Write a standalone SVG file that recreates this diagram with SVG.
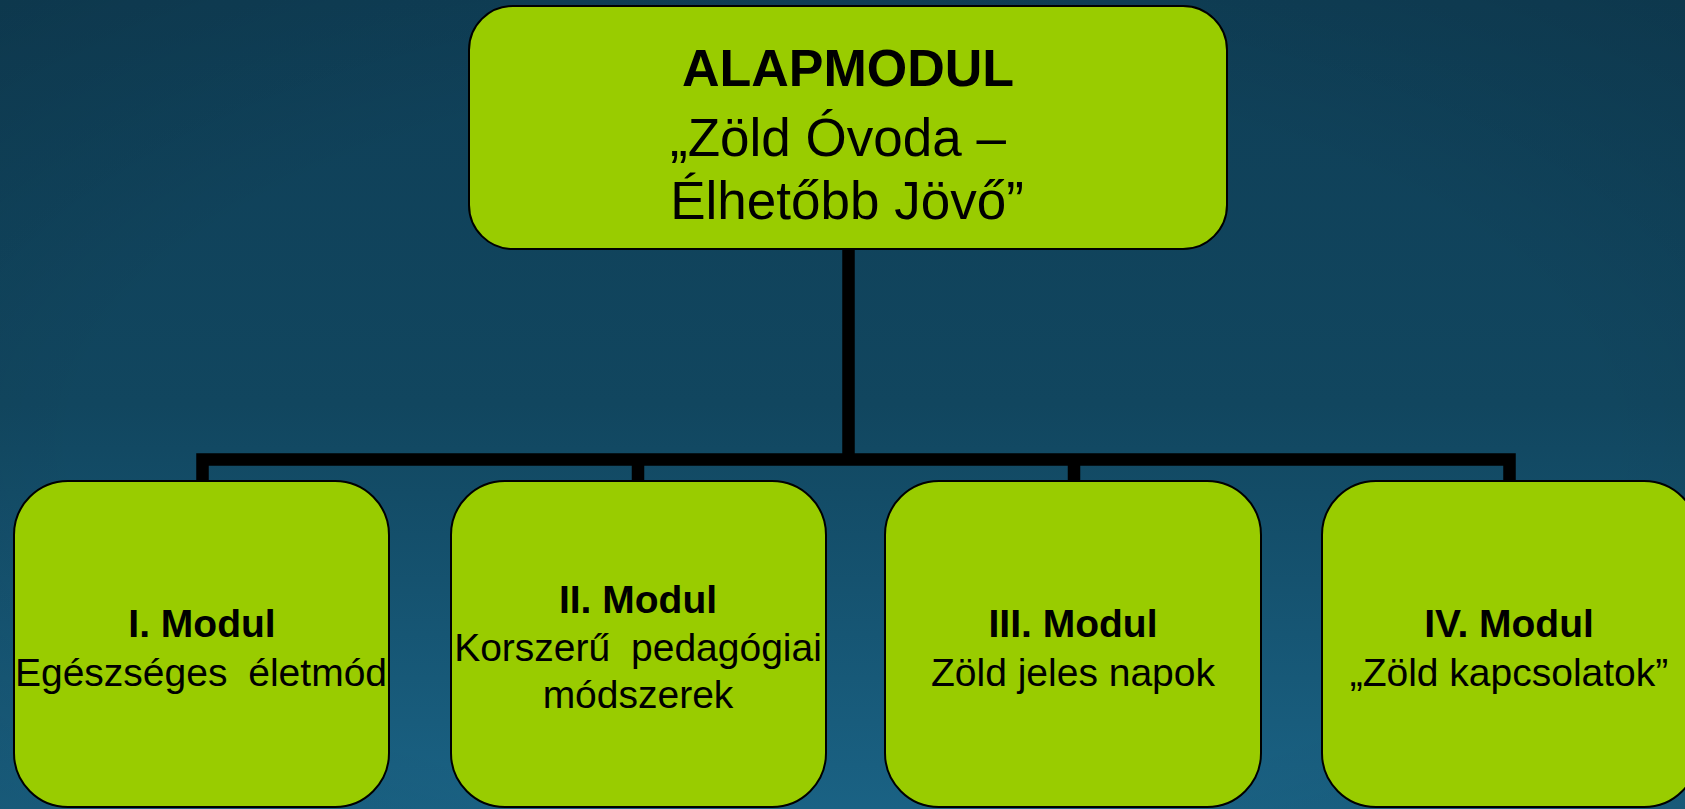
<svg xmlns="http://www.w3.org/2000/svg" width="1685" height="809" viewBox="0 0 1685 809">
<defs>
<linearGradient id="bg" x1="0" y1="0" x2="0" y2="1">
<stop offset="0" stop-color="#0f3f57"/>
<stop offset="0.5" stop-color="#11465f"/>
<stop offset="1" stop-color="#1a6284"/>
</linearGradient>
<radialGradient id="vig" cx="0.5" cy="0.55" r="0.75">
<stop offset="0.6" stop-color="#000" stop-opacity="0"/>
<stop offset="1" stop-color="#000" stop-opacity="0.12"/>
</radialGradient>
</defs>
<style>
.box{fill:#99cc00;stroke:#000;stroke-width:2}
.t{font-family:"Liberation Sans",Arial,sans-serif;fill:#000;text-anchor:middle}
.b{font-weight:bold}
.conn{stroke:#000;stroke-width:12.5;fill:none;stroke-linecap:butt}
</style>
<rect x="0" y="0" width="1685" height="809" fill="url(#bg)"/>
<rect x="0" y="0" width="1685" height="809" fill="url(#vig)"/>
<g id="connectors">
<path class="conn" d="M848.5 250 V459.5 M202.5 481 V459.5 H1509.5 V481 M638 459.5 V481 M1074 459.5 V481"/>
</g>
<g id="root">
<rect class="box" x="469" y="6" width="758" height="243" rx="44" ry="44"/>
<text class="t b" x="848" y="86" font-size="52">ALAPMODUL</text>
<text class="t" x="838" y="156" font-size="53">„Zöld Óvoda –</text>
<text class="t" x="847" y="219" font-size="53">Élhetőbb Jövő”</text>
</g>
<g id="m1">
<rect class="box" x="14" y="481" width="375" height="326" rx="54" ry="54"/>
<text class="t b" x="202" y="637" font-size="39">I. Modul</text>
<text class="t" x="201" y="686" font-size="39" word-spacing="10">Egészséges életmód</text>
</g>
<g id="m2">
<rect class="box" x="451" y="481" width="375" height="326" rx="54" ry="54"/>
<text class="t b" x="638" y="613" font-size="39">II. Modul</text>
<text class="t" x="638" y="661" font-size="39" word-spacing="10">Korszerű pedagógiai</text>
<text class="t" x="638" y="708" font-size="39">módszerek</text>
</g>
<g id="m3">
<rect class="box" x="885" y="481" width="376" height="326" rx="54" ry="54"/>
<text class="t b" x="1073" y="637" font-size="39">III. Modul</text>
<text class="t" x="1073" y="686" font-size="39">Zöld jeles napok</text>
</g>
<g id="m4">
<rect class="box" x="1322" y="481" width="376" height="326" rx="54" ry="54"/>
<text class="t b" x="1509" y="637" font-size="39">IV. Modul</text>
<text class="t" x="1509" y="686" font-size="39">„Zöld kapcsolatok”</text>
</g>
</svg>
